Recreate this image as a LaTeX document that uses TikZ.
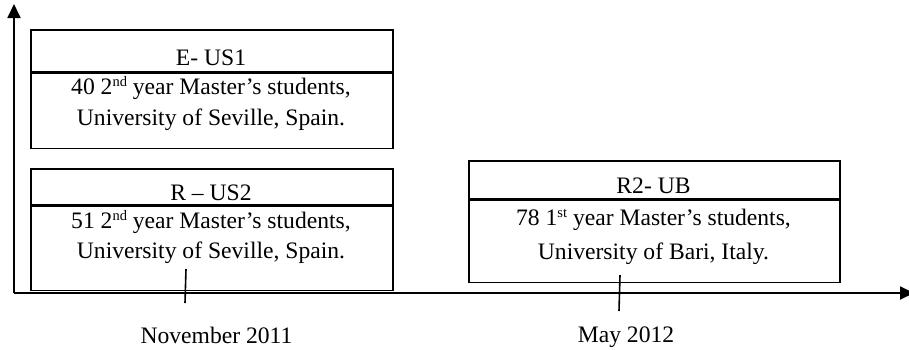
\documentclass[tikz,border=0pt]{standalone}
\usepackage{fontspec}
\setmainfont{Liberation Serif}
\usetikzlibrary{arrows.meta}
\newcommand{\supx}[1]{\raisebox{7.5pt}{\fontsize{14.5}{14.5}\selectfont #1}}
\begin{document}
\begin{tikzpicture}[x=1pt,y=-1pt,
  cell/.style={draw, line width=1.6pt, inner sep=0pt, anchor=north west},
  txt/.style={inner sep=0pt, anchor=base, font=\fontsize{23.6}{28}\selectfont},
  axisline/.style={line width=1.8pt, -{Triangle[length=14pt,width=13pt]}},
  tickline/.style={line width=1.6pt}]
\useasboundingbox (0,0) rectangle (909,349);
% axes
\coordinate (o) at (14,293);
\coordinate (ytip) at (14,4);
\coordinate (xtip) at (914,293);
\draw[axisline] (o) -- (ytip);
\draw[axisline] (o) -- (xtip);
% box E-US1
\node[cell, minimum width=362pt, minimum height=42pt] (e1t) at (30,29) {};
\node[cell, minimum width=362pt, minimum height=75pt] (e1b) at (e1t.south west) {};
\node[txt] (e1title) at (211,65) {E- US1};
\node[txt] (e1l1) at (211,94) {40 2\supx{nd} year Master’s students,};
\node[txt] (e1l2) at (211,125) {University of Seville, Spain.};
% box R-US2
\node[cell, minimum width=362pt, minimum height=36pt] (r1t) at (30,168) {};
\node[cell, minimum width=362pt, minimum height=84pt] (r1b) at (r1t.south west) {};
\node[txt] (r1title) at (211,200) {R – US2};
\node[txt] (r1l1) at (211,228) {51 2\supx{nd} year Master’s students,};
\node[txt] (r1l2) at (211,258) {University of Seville, Spain.};
% box R2-UB
\node[cell, minimum width=371pt, minimum height=38pt] (r2t) at (468,160) {};
\node[cell, minimum width=371pt, minimum height=82pt] (r2b) at (r2t.south west) {};
\node[txt] (r2title) at (653.5,193) {R2- UB};
\node[txt] (r2l1) at (653.5,225) {78 1\supx{st} year Master’s students,};
\node[txt] (r2l2) at (653.5,259) {University of Bari, Italy.};
% ticks
\coordinate (t1a) at (186,269);
\coordinate (t1b) at (185,303);
\draw[tickline] (t1a) -- (t1b);
\coordinate (t2a) at (620,275);
\coordinate (t2b) at (619,311);
\draw[tickline] (t2a) -- (t2b);
% labels
\node[txt] (nov) at (216.5,343) {November 2011};
\node[txt] (may) at (626,342) {May 2012};
\end{tikzpicture}
\end{document}
